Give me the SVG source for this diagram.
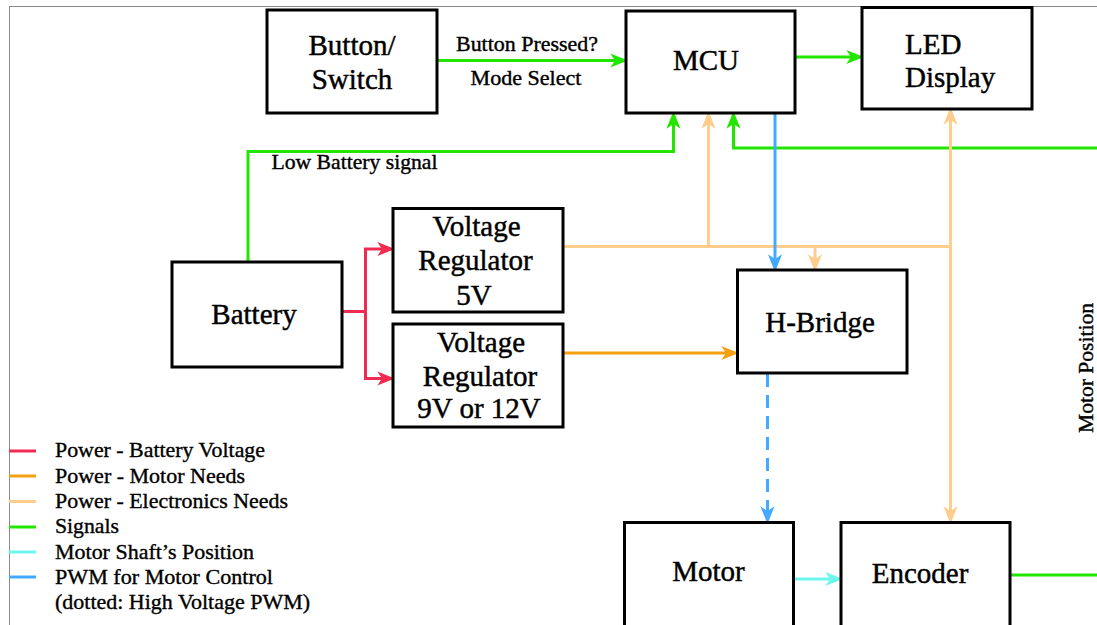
<svg xmlns="http://www.w3.org/2000/svg" width="1097" height="625" viewBox="0 0 1097 625">
<style>
.box{fill:#fff;stroke:#000;stroke-width:3}
.lbl{font-family:"Liberation Serif","Times New Roman",serif;font-size:29px;fill:#000;stroke:#000;stroke-width:0.45px}
.sm{font-family:"Liberation Serif","Times New Roman",serif;font-size:22px;fill:#000;stroke:#000;stroke-width:0.4px}
.lg{font-family:"Liberation Serif","Times New Roman",serif;font-size:21px;fill:#000;stroke:#000;stroke-width:0.35px}
.c{fill:none;stroke-width:3}
.g{stroke:#22e600}.r{stroke:#f02a50}.o{stroke:#f4a013}.lo{stroke:#ffcd8c}.cy{stroke:#6cf7ee}.b{stroke:#44aaff}
</style>
<defs>
<marker id="ag" markerUnits="userSpaceOnUse" markerWidth="20" markerHeight="20" viewBox="-5 -7 17 14" refX="0" refY="0" orient="auto"><path d="M-4,-6 L11,0 L-4,6 L0,0 Z" fill="#22e600"/></marker>
<marker id="ar" markerUnits="userSpaceOnUse" markerWidth="20" markerHeight="20" viewBox="-5 -7 17 14" refX="0" refY="0" orient="auto"><path d="M-4,-6 L11,0 L-4,6 L0,0 Z" fill="#f02a50"/></marker>
<marker id="ao" markerUnits="userSpaceOnUse" markerWidth="20" markerHeight="20" viewBox="-5 -7 17 14" refX="0" refY="0" orient="auto"><path d="M-4,-6 L11,0 L-4,6 L0,0 Z" fill="#f4a013"/></marker>
<marker id="alo" markerUnits="userSpaceOnUse" markerWidth="20" markerHeight="20" viewBox="-5 -7 17 14" refX="0" refY="0" orient="auto"><path d="M-4,-6 L11,0 L-4,6 L0,0 Z" fill="#ffcd8c"/></marker>
<marker id="acy" markerUnits="userSpaceOnUse" markerWidth="20" markerHeight="20" viewBox="-5 -7 17 14" refX="0" refY="0" orient="auto"><path d="M-4,-6 L11,0 L-4,6 L0,0 Z" fill="#6cf7ee"/></marker>
<marker id="ab" markerUnits="userSpaceOnUse" markerWidth="20" markerHeight="20" viewBox="-5 -7 17 14" refX="0" refY="0" orient="auto"><path d="M-4,-6 L11,0 L-4,6 L0,0 Z" fill="#44aaff"/></marker>
</defs>
<rect x="0" y="0" width="1097" height="625" fill="#fff"/>
<rect x="9.5" y="6.5" width="1200" height="700" fill="none" stroke="#8a8a8a" stroke-width="1"/>

<g id="connectors">
<path class="c g" d="M437,60.5 H615" marker-end="url(#ag)"/>
<path class="c g" d="M795,57 H851" marker-end="url(#ag)"/>
<path class="c g" d="M248,262 V151.5 H673.5 V124" marker-end="url(#ag)"/>
<path class="c g" d="M1010,575 H1100"/>
<path class="c g" d="M1100,148 H733.5 V124" marker-end="url(#ag)"/>
<path class="c lo" d="M563,246.5 H950.5"/>
<path class="c lo" d="M950.5,246.5 V120" marker-end="url(#alo)"/>
<path class="c lo" d="M950.5,246.5 V511" marker-end="url(#alo)"/>
<path class="c lo" d="M708.5,246.5 V124" marker-end="url(#alo)"/>
<path class="c lo" d="M815,246.5 V259" marker-end="url(#alo)"/>
<path class="c b" d="M775,113 V259" marker-end="url(#ab)"/>
<path class="c o" d="M563,353 H726" marker-end="url(#ao)"/>
<path class="c b" d="M767.5,374 V511" stroke-dasharray="13 8" marker-end="url(#ab)"/>
<path class="c cy" d="M793,579 H830" marker-end="url(#acy)"/>
<path class="c r" d="M342,311.5 H365.5"/>
<path class="c r" d="M365.5,249 V378.5"/>
<path class="c r" d="M364,249 H382" marker-end="url(#ar)"/>
<path class="c r" d="M364,378.5 H382" marker-end="url(#ar)"/>
<text class="sm" x="527" y="51" text-anchor="middle" textLength="142" lengthAdjust="spacingAndGlyphs" font-size="24">Button Pressed?</text>
<text class="sm" x="526" y="85" text-anchor="middle" textLength="111" lengthAdjust="spacingAndGlyphs" font-size="24">Mode Select</text>
<text class="sm" x="271.5" y="168.5" textLength="166" lengthAdjust="spacingAndGlyphs">Low Battery signal</text>
<text class="sm" transform="translate(1093,368) rotate(-90)" text-anchor="middle" textLength="130" lengthAdjust="spacingAndGlyphs" font-size="23">Motor Position</text>
</g>

<g id="button"><rect class="box" x="267" y="10" width="170" height="103"/>
<text class="lbl" x="352" y="55" text-anchor="middle">Button/</text>
<text class="lbl" x="352" y="88.5" text-anchor="middle">Switch</text></g>

<g id="mcu"><rect class="box" x="626" y="11" width="169" height="102"/>
<text class="lbl" x="706" y="70" text-anchor="middle">MCU</text></g>

<g id="led"><rect class="box" x="862" y="7.5" width="170" height="101.5"/>
<text class="lbl" x="905" y="53.5">LED</text>
<text class="lbl" x="905" y="87">Display</text></g>

<g id="battery"><rect class="box" x="172" y="262" width="170" height="105"/>
<text class="lbl" x="254" y="323.5" text-anchor="middle">Battery</text></g>

<g id="vr5"><rect class="box" x="393" y="208.5" width="170" height="103.5"/>
<text class="lbl" x="476.5" y="236" text-anchor="middle">Voltage</text>
<text class="lbl" x="475.5" y="270" text-anchor="middle">Regulator</text>
<text class="lbl" x="474" y="305" text-anchor="middle">5V</text></g>

<g id="vr9"><rect class="box" x="393" y="324" width="170" height="103"/>
<text class="lbl" x="481" y="352" text-anchor="middle">Voltage</text>
<text class="lbl" x="480" y="386" text-anchor="middle">Regulator</text>
<text class="lbl" x="479" y="418" text-anchor="middle">9V or 12V</text></g>

<g id="hbridge"><rect class="box" x="737.5" y="270" width="169.5" height="103"/>
<text class="lbl" x="820" y="332" text-anchor="middle">H-Bridge</text></g>

<g id="motor"><rect class="box" x="624.5" y="522.5" width="169" height="110"/>
<text class="lbl" x="708.5" y="581" text-anchor="middle">Motor</text></g>

<g id="encoder"><rect class="box" x="841" y="522.5" width="169" height="110"/>
<text class="lbl" x="920" y="583" text-anchor="middle">Encoder</text></g>

<g id="legend">
<path class="c r" d="M9,451 H36"/>
<path class="c o" d="M9,476 H36"/>
<path class="c lo" d="M9,501.5 H36"/>
<path class="c g" d="M9,527 H36"/>
<path class="c cy" d="M9,552 H36"/>
<path class="c b" d="M9,577 H36"/>
<text class="lg" x="55" y="457" textLength="210" lengthAdjust="spacingAndGlyphs">Power - Battery Voltage</text>
<text class="lg" x="55" y="482.5" textLength="190" lengthAdjust="spacingAndGlyphs">Power - Motor Needs</text>
<text class="lg" x="55" y="508" textLength="233" lengthAdjust="spacingAndGlyphs">Power - Electronics Needs</text>
<text class="lg" x="55" y="533" textLength="64" lengthAdjust="spacingAndGlyphs">Signals</text>
<text class="lg" x="55" y="558.5" textLength="199" lengthAdjust="spacingAndGlyphs">Motor Shaft’s Position</text>
<text class="lg" x="55" y="583.5" textLength="218" lengthAdjust="spacingAndGlyphs">PWM for Motor Control</text>
<text class="lg" x="55" y="608.5" textLength="255" lengthAdjust="spacingAndGlyphs">(dotted: High Voltage PWM)</text>
</g>
</svg>
